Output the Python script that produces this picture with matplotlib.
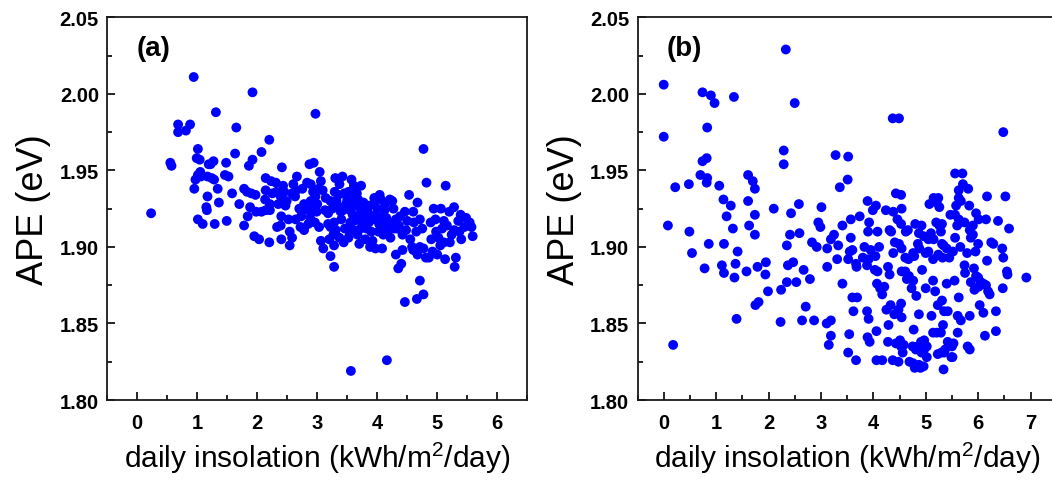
import numpy as np
import matplotlib
matplotlib.use("Agg")
import matplotlib.pyplot as plt
from matplotlib.ticker import MultipleLocator, FormatStrFormatter

plt.rcParams['font.family'] = ['Liberation Sans', 'DejaVu Sans']
plt.rcParams['mathtext.fontset'] = 'custom'
plt.rcParams['mathtext.rm'] = 'Liberation Sans'
plt.rcParams['mathtext.it'] = 'Liberation Sans:italic'
plt.rcParams['mathtext.bf'] = 'Liberation Sans:bold'

# panel (a): daily insolation vs APE
ins_a = [
    0.23, 0.55, 0.57, 0.68, 0.68, 0.81, 0.88, 0.94, 1.31, 1.92, 2.97, 1.65, 2.20,
    1.01, 0.99, 1.04, 1.63, 2.07, 1.92, 1.86, 1.27, 1.22, 1.19, 1.48, 2.41, 2.87,
    2.94, 4.77, 1.05, 1.01, 0.97, 1.06, 0.95, 1.17, 1.24, 1.28, 1.46, 1.52, 1.34,
    1.58, 1.17, 1.36, 1.15, 1.16, 1.70, 1.88, 1.01, 1.09, 1.29, 1.49, 1.78, 1.83,
    1.90, 1.97, 1.78, 1.84, 1.98, 2.07, 2.14, 1.95, 2.03, 2.20, 2.14, 2.14, 2.13,
    2.23, 2.31, 2.21, 2.21, 2.43, 2.45, 2.39, 2.32, 2.49, 2.47, 2.40, 2.33, 2.39,
    2.40, 2.54, 2.58, 2.54, 2.60, 2.65, 2.66, 2.63, 2.75, 2.83, 2.89, 2.93, 3.04,
    3.06, 3.02, 2.97, 2.89, 2.78, 2.70, 2.78, 2.87, 2.93, 2.99, 2.64, 2.73, 2.72,
    2.78, 2.88, 2.96, 3.03, 3.06, 3.10, 3.22, 3.28, 3.09, 3.14, 3.22, 3.13, 3.18,
    3.18, 3.22, 3.29, 3.30, 3.42, 3.37, 3.32, 3.36, 3.39, 3.43, 3.28, 3.31, 3.27,
    3.28, 3.37, 3.57, 3.61, 3.52, 3.66, 3.50, 3.61, 3.68, 3.63, 3.55, 3.59, 3.67,
    3.61, 3.52, 3.52, 3.60, 3.67, 3.72, 3.77, 3.81, 3.87, 3.94, 3.77, 3.86, 3.82,
    3.90, 3.98, 4.04, 4.06, 4.12, 4.15, 4.08, 3.92, 3.97, 4.08, 4.03, 4.07, 4.17,
    4.19, 4.22, 4.21, 4.25, 4.27, 4.31, 4.28, 4.33, 4.36, 4.31, 4.42, 4.40, 4.35,
    4.46, 4.53, 4.50, 4.48, 4.60, 4.61, 4.67, 4.71, 4.58, 4.60, 4.67, 4.71, 4.75,
    4.77, 4.81, 4.82, 4.89, 4.86, 4.94, 5.06, 4.97, 4.98, 5.02, 5.05, 5.11, 5.13,
    5.14, 5.20, 5.11, 5.16, 5.21, 5.28, 5.28, 5.31, 5.29, 5.37, 5.40, 5.39, 5.45,
    5.48, 5.54, 5.59, 5.57, 4.71, 4.46, 4.66, 4.77, 4.16, 3.56,
    3.45, 3.48, 3.72, 3.75, 3.85, 3.92, 4.00, 4.02, 4.10, 4.13, 3.40, 3.46, 3.55,
    3.70, 3.80, 3.88, 3.58, 3.35, 3.25, 3.20, 3.44, 4.24, 4.38, 4.42, 4.55, 4.65,
    4.90, 4.92, 5.00, 5.08, 5.24, 5.35, 3.95, 3.73, 2.52, 2.58, 2.35, 2.85, 3.00,
    2.25,
]
ape_a = [
    1.922, 1.955, 1.953, 1.980, 1.975, 1.976, 1.980, 2.011, 1.988, 2.001, 1.987,
    1.978, 1.970, 1.964, 1.958, 1.957, 1.961, 1.962, 1.957, 1.953, 1.956, 1.954,
    1.954, 1.955, 1.952, 1.954, 1.955, 1.964, 1.949, 1.947, 1.944, 1.946, 1.938,
    1.946, 1.945, 1.944, 1.947, 1.946, 1.938, 1.935, 1.933, 1.929, 1.926, 1.924,
    1.928, 1.926, 1.918, 1.915, 1.915, 1.917, 1.938, 1.936, 1.935, 1.934, 1.914,
    1.920, 1.923, 1.923, 1.924, 1.907, 1.905, 1.903, 1.945, 1.937, 1.931, 1.943,
    1.942, 1.928, 1.924, 1.940, 1.936, 1.933, 1.936, 1.930, 1.927, 1.920, 1.913,
    1.914, 1.905, 1.910, 1.906, 1.901, 1.941, 1.937, 1.946, 1.933, 1.938, 1.942,
    1.941, 1.936, 1.949, 1.943, 1.938, 1.933, 1.930, 1.928, 1.925, 1.924, 1.924,
    1.925, 1.923, 1.918, 1.920, 1.913, 1.911, 1.919, 1.916, 1.913, 1.904, 1.899,
    1.894, 1.887, 1.937, 1.932, 1.930, 1.924, 1.922, 1.915, 1.913, 1.936, 1.945,
    1.946, 1.941, 1.930, 1.926, 1.923, 1.924, 1.916, 1.911, 1.908, 1.901, 1.906,
    1.944, 1.940, 1.936, 1.935, 1.931, 1.931, 1.931, 1.927, 1.924, 1.921, 1.920,
    1.917, 1.911, 1.906, 1.911, 1.908, 1.912, 1.929, 1.925, 1.927, 1.928, 1.920,
    1.916, 1.912, 1.910, 1.921, 1.934, 1.931, 1.924, 1.919, 1.919, 1.904, 1.899,
    1.899, 1.915, 1.914, 1.916, 1.911, 1.906, 1.931, 1.930, 1.925, 1.918, 1.912,
    1.912, 1.914, 1.895, 1.898, 1.889, 1.886, 1.923, 1.934, 1.917, 1.911, 1.923,
    1.916, 1.929, 1.918, 1.900, 1.898, 1.895, 1.900, 1.912, 1.899, 1.893, 1.942,
    1.916, 1.893, 1.925, 1.925, 1.918, 1.910, 1.906, 1.901, 1.903, 1.892, 1.940,
    1.923, 1.917, 1.914, 1.903, 1.926, 1.911, 1.893, 1.887, 1.910, 1.905, 1.921,
    1.913, 1.919, 1.916, 1.907, 1.913, 1.878, 1.864, 1.866, 1.869, 1.826, 1.819,
    1.935, 1.928, 1.925, 1.915, 1.922, 1.918, 1.925, 1.910, 1.908, 1.928, 1.918,
    1.912, 1.916, 1.902, 1.905, 1.900, 1.928, 1.934, 1.925, 1.905, 1.903, 1.915,
    1.920, 1.908, 1.905, 1.910, 1.905, 1.897, 1.895, 1.912, 1.908, 1.917, 1.932,
    1.940, 1.918, 1.935, 1.928, 1.915, 1.928, 1.935,
]

# panel (b)
ins_b = [
    0.00, 0.00, 0.22, 0.08, 0.18, 0.48, 0.49, 0.54, 0.74, 0.90, 0.97, 1.34, 0.83,
    0.74, 0.82, 0.70, 0.83, 0.82, 1.06, 0.78, 0.86, 1.14, 1.20, 1.28, 1.32, 1.15,
    1.11, 1.15, 1.41, 1.37, 1.35, 1.39, 1.61, 1.70, 1.74, 1.74, 1.61, 1.63, 1.74,
    1.58, 1.79, 1.95, 1.94, 1.99, 1.75, 1.81, 2.10, 2.29, 2.29, 2.33, 2.50, 2.43,
    2.58, 2.35, 2.41, 2.59, 2.37, 2.47, 2.24, 2.35, 2.53, 2.23, 2.67, 2.71, 2.79,
    2.64, 2.87, 2.83, 2.92, 3.01, 2.95, 2.99, 3.12, 3.12, 3.19, 3.25, 3.33, 3.31,
    3.28, 3.36, 3.52, 3.51, 3.41, 3.11, 3.19, 3.19, 3.15, 3.41, 3.57, 3.57, 3.55,
    3.52, 3.60, 3.67, 3.68, 3.60, 3.69, 3.62, 3.54, 3.52, 3.67, 3.74, 3.89, 3.92,
    3.90, 3.99, 4.05, 4.08, 3.83, 3.80, 3.91, 3.88, 3.95, 4.04, 4.11, 4.03, 4.08,
    3.88, 3.91, 3.89, 3.93, 4.06, 4.07, 4.13, 4.17, 4.21, 4.06, 4.17, 4.24, 4.31,
    4.28, 4.31, 4.25, 4.29, 4.33, 4.37, 4.28, 4.37, 4.49, 4.43, 4.53, 4.38, 4.46,
    4.53, 4.54, 4.34, 4.41, 4.49, 4.38, 4.54, 4.61, 4.62, 4.66, 4.54, 4.61, 4.64,
    4.40, 4.48, 4.53, 4.54, 4.43, 4.51, 4.53, 4.58, 4.56, 4.48, 4.76, 4.78, 4.67,
    4.68, 4.76, 4.73, 4.80, 4.87, 4.92, 4.96, 4.85, 4.88, 4.93, 4.82, 4.87, 4.77,
    4.75, 4.85, 4.91, 4.69, 4.76, 4.79, 4.87, 4.90, 4.96, 4.81, 4.92, 4.97, 5.02,
    4.97, 5.02, 5.00, 5.11, 5.14, 5.21, 5.23, 5.34, 5.30, 5.35, 5.07, 5.15, 5.21,
    5.24, 5.26, 5.05, 5.10, 5.15, 5.20, 5.26, 5.29, 5.31, 5.31, 5.34, 5.40, 5.00,
    5.05, 5.14, 5.24, 5.14, 5.18, 5.23, 5.31, 5.35, 5.42, 5.33, 5.29, 5.32, 5.40,
    5.45, 5.50, 5.51, 5.42, 5.37, 5.47, 5.52, 5.58, 5.56, 5.56, 5.60, 5.63, 5.63,
    5.63, 5.56, 5.70, 5.71, 5.67, 5.81, 5.83, 5.66, 5.79, 5.74, 5.75, 5.74, 5.84,
    5.86, 5.90, 5.90, 5.55, 5.63, 5.61, 5.67, 5.61, 5.53, 5.84, 5.80, 5.84, 5.49,
    5.95, 5.96, 6.01, 6.00, 6.15, 5.92, 5.86, 5.96, 5.93, 6.00, 6.05, 6.01, 6.10,
    6.15, 6.19, 6.22, 6.03, 6.10, 6.13, 6.34, 6.34, 6.17, 6.17, 6.25, 6.29, 6.38,
    6.46, 6.48, 6.52, 6.47, 6.55, 6.56, 6.59, 6.48, 6.92,
]
ape_b = [
    2.006, 1.972, 1.939, 1.914, 1.836, 1.941, 1.910, 1.896, 2.001, 1.999, 1.994,
    1.998, 1.978, 1.956, 1.958, 1.947, 1.945, 1.942, 1.940, 1.886, 1.902, 1.931,
    1.920, 1.927, 1.912, 1.902, 1.888, 1.883, 1.897, 1.889, 1.880, 1.853, 1.947,
    1.943, 1.938, 1.921, 1.930, 1.914, 1.908, 1.884, 1.887, 1.890, 1.882, 1.871,
    1.862, 1.864, 1.925, 1.963, 1.954, 2.029, 1.994, 1.922, 1.928, 1.901, 1.908,
    1.909, 1.888, 1.890, 1.872, 1.877, 1.877, 1.851, 1.885, 1.861, 1.879, 1.852,
    1.852, 1.903, 1.900, 1.926, 1.916, 1.913, 1.899, 1.887, 1.905, 1.908, 1.901,
    1.892, 1.960, 1.939, 1.959, 1.944, 1.876, 1.850, 1.852, 1.842, 1.836, 1.914,
    1.918, 1.906, 1.897, 1.892, 1.898, 1.889, 1.887, 1.867, 1.867, 1.858, 1.843,
    1.831, 1.826, 1.920, 1.930, 1.916, 1.910, 1.924, 1.927, 1.910, 1.900, 1.893,
    1.892, 1.888, 1.898, 1.894, 1.900, 1.885, 1.884, 1.858, 1.853, 1.841, 1.838,
    1.845, 1.876, 1.873, 1.869, 1.874, 1.826, 1.826, 1.924, 1.911, 1.887, 1.882,
    1.859, 1.849, 1.862, 1.826, 1.838, 1.984, 1.984, 1.935, 1.934, 1.923, 1.918,
    1.915, 1.925, 1.910, 1.903, 1.902, 1.896, 1.899, 1.893, 1.910, 1.911, 1.884,
    1.884, 1.879, 1.856, 1.859, 1.863, 1.854, 1.837, 1.839, 1.835, 1.836, 1.831,
    1.825, 1.896, 1.894, 1.892, 1.881, 1.878, 1.873, 1.915, 1.909, 1.914, 1.907,
    1.902, 1.899, 1.885, 1.868, 1.856, 1.846, 1.835, 1.835, 1.838, 1.825, 1.824,
    1.821, 1.823, 1.821, 1.822, 1.833, 1.831, 1.839, 1.835, 1.833, 1.828, 1.873,
    1.855, 1.844, 1.844, 1.830, 1.820, 1.831, 1.831, 1.928, 1.932, 1.929, 1.932,
    1.926, 1.905, 1.909, 1.905, 1.916, 1.914, 1.910, 1.915, 1.902, 1.901, 1.899,
    1.896, 1.897, 1.892, 1.895, 1.878, 1.871, 1.862, 1.865, 1.858, 1.858, 1.849,
    1.844, 1.893, 1.876, 1.893, 1.835, 1.828, 1.838, 1.833, 1.921, 1.897, 1.927,
    1.906, 1.921, 1.914, 1.937, 1.932, 1.918, 1.948, 1.948, 1.941, 1.930, 1.938,
    1.927, 1.900, 1.896, 1.888, 1.883, 1.916, 1.911, 1.906, 1.914, 1.908, 1.878,
    1.867, 1.855, 1.852, 1.844, 1.837, 1.855, 1.835, 1.833, 1.828, 1.897, 1.922,
    1.918, 1.902, 1.918, 1.886, 1.877, 1.881, 1.872, 1.880, 1.877, 1.874, 1.876,
    1.875, 1.871, 1.869, 1.862, 1.857, 1.842, 1.858, 1.845, 1.933, 1.891, 1.903,
    1.902, 1.917, 1.899, 1.893, 1.933, 1.873, 1.884, 1.882, 1.912, 1.975, 1.880,
]

panels = [
    (ins_a, ape_a, '(a)', 6.5, [0.102, 0.1663, 0.3992, 0.7956]),
    (ins_b, ape_b, '(b)', 7.5, [0.606, 0.1663, 0.3985, 0.7956]),
]

fig = plt.figure(figsize=(10.52, 4.81), dpi=100)

for xs, ys, tag, xmax, pos in panels:
    ax = fig.add_axes(pos)
    ax.scatter(xs, ys, s=50, color='#0000ff', edgecolors='none')
    ax.set_xlim(-0.5, xmax)
    ax.set_ylim(1.80, 2.05)
    ax.xaxis.set_major_locator(MultipleLocator(1))
    ax.xaxis.set_minor_locator(MultipleLocator(0.5))
    ax.yaxis.set_major_locator(MultipleLocator(0.05))
    ax.yaxis.set_minor_locator(MultipleLocator(0.025))
    ax.yaxis.set_major_formatter(FormatStrFormatter('%.2f'))
    ax.tick_params(which='major', direction='in', length=6, width=1.2,
                   labelsize=14.5, top=False, right=False)
    ax.tick_params(axis='x', which='major', pad=9)
    ax.tick_params(axis='y', which='major', pad=6)
    ax.tick_params(which='minor', direction='in', length=3.5, width=1.2,
                   top=False, right=False)
    for lab in ax.get_xticklabels() + ax.get_yticklabels():
        lab.set_fontweight('bold')
    for sp in ax.spines.values():
        sp.set_linewidth(1.3)
        sp.set_color('#1a1a1a')
    ax.set_xlabel('daily insolation (kWh/m$^2$/day)', fontsize=21.5, labelpad=6)
    ax.set_ylabel('APE (eV)', fontsize=26, labelpad=6)
    ax.text(0.07, 0.92, tag, transform=ax.transAxes, fontsize=20,
            fontweight='bold', va='center', ha='left')

fig.savefig('out.png', dpi=100)
